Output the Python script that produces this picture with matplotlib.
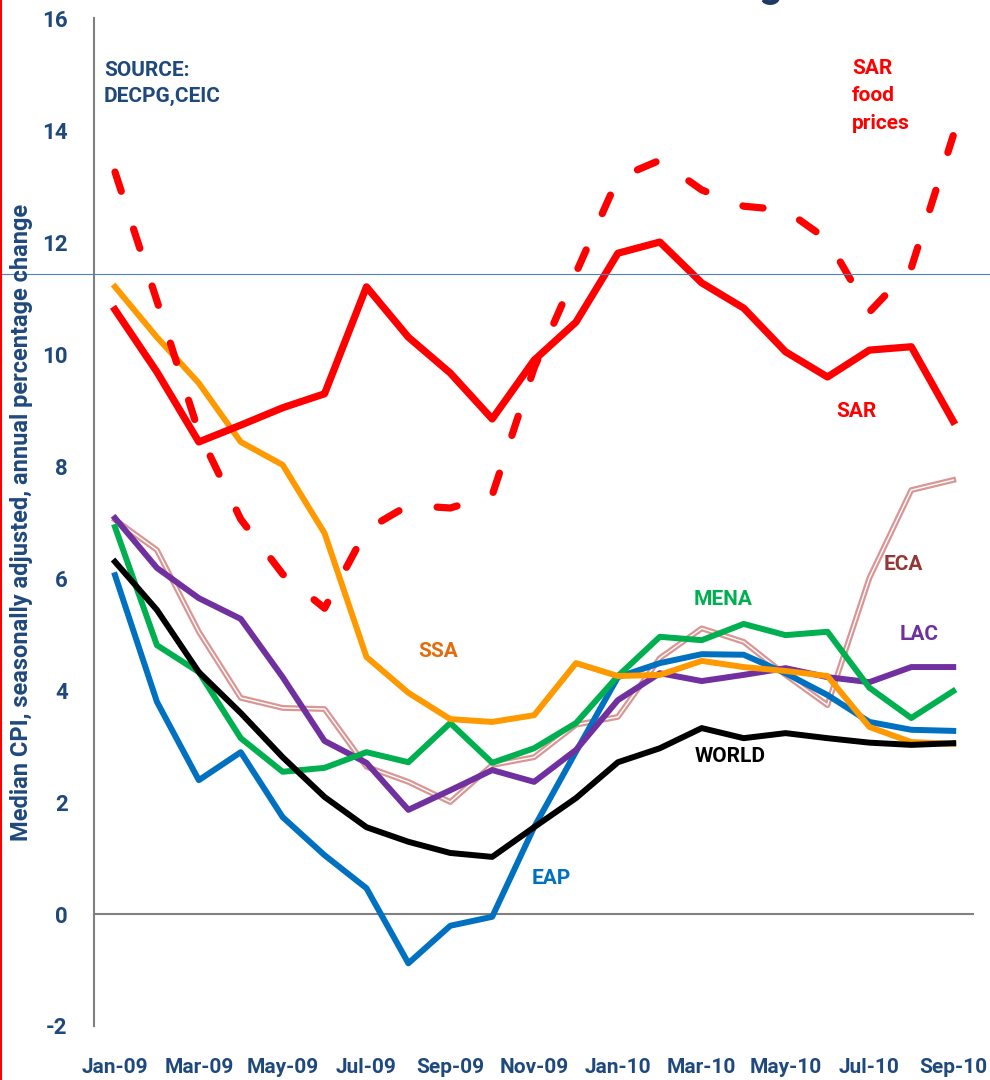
import matplotlib
matplotlib.use("Agg")
import matplotlib.pyplot as plt
from matplotlib.lines import Line2D

plt.rcParams['font.family'] = ['Roboto', 'DejaVu Sans']
plt.rcParams['font.weight'] = 'bold'
plt.rcParams['axes.unicode_minus'] = False

months = ['Jan-09', 'Feb-09', 'Mar-09', 'Apr-09', 'May-09', 'Jun-09', 'Jul-09',
          'Aug-09', 'Sep-09', 'Oct-09', 'Nov-09', 'Dec-09', 'Jan-10', 'Feb-10',
          'Mar-10', 'Apr-10', 'May-10', 'Jun-10', 'Jul-10', 'Aug-10', 'Sep-10']

eap = [6.05, 3.79, 2.39, 2.89, 1.73, 1.05, 0.46, -0.88, -0.21, -0.05, 1.55,
       2.9, 4.23, 4.48, 4.64, 4.63, 4.3, 3.91, 3.43, 3.29, 3.27]
eca = [7.04, 6.5, 5.04, 3.86, 3.68, 3.66, 2.63, 2.36, 2.0, 2.66, 2.8,
       3.38, 3.52, 4.57, 5.1, 4.86, 4.27, 3.73, 6.0, 7.57, 7.75]
lac = [7.07, 6.18, 5.64, 5.27, 4.23, 3.09, 2.7, 1.86, 2.21, 2.57, 2.36,
       2.93, 3.82, 4.3, 4.16, 4.27, 4.39, 4.23, 4.14, 4.41, 4.41]
mena = [6.91, 4.8, 4.32, 3.14, 2.54, 2.61, 2.89, 2.71, 3.41, 2.7, 2.96,
        3.41, 4.25, 4.95, 4.89, 5.18, 4.98, 5.04, 4.04, 3.5, 3.98]
sar = [10.79, 9.68, 8.43, 8.73, 9.04, 9.29, 11.2, 10.3, 9.66, 8.84, 9.89,
       10.57, 11.8, 12.0, 11.27, 10.82, 10.04, 9.59, 10.07, 10.13, 8.8]
ssa = [11.2, 10.3, 9.48, 8.43, 8.02, 6.8, 4.59, 3.95, 3.48, 3.43, 3.55,
       4.48, 4.25, 4.27, 4.52, 4.41, 4.34, 4.25, 3.34, 3.07, 3.04]
world = [6.29, 5.43, 4.32, 3.59, 2.8, 2.09, 1.55, 1.29, 1.09, 1.02, 1.55,
         2.07, 2.71, 2.96, 3.32, 3.14, 3.23, 3.14, 3.06, 3.02, 3.05]
sar_food = [13.25, 10.95, 8.6, 7.05, 6.07, 5.46, 6.86, 7.3, 7.25, 7.48, 9.75,
            11.45, 13.14, 13.46, 12.93, 12.64, 12.57, 12.04, 10.75, 11.54, 13.9]

navy = '#1F497D'
x = list(range(len(months)))

fig = plt.figure(figsize=(9.9, 10.8), dpi=100)
ax = fig.add_axes([0.095, 0.05, 0.889, 0.9333])

# ECA drawn as a double line (pink with white core)
ax.plot(x, eca, color='#D99694', lw=4.2, zorder=2)
ax.plot(x, eca, color='white', lw=1.0, zorder=2.1)
ax.plot(x, eap, color='#0070C0', lw=4.3, zorder=3)
ax.plot(x, lac, color='#7030A0', lw=4.3, zorder=3.2)
ax.plot(x, mena, color='#00B050', lw=4.3, zorder=3.3)
ax.plot(x, ssa, color='#FF9900', lw=4.3, zorder=3.4)
ax.plot(x, world, color='black', lw=4.3, zorder=3.5)
ax.plot(x, sar, color='#FF0000', lw=5.2, zorder=3.6)
ax.plot(x, sar_food, color='#FF0000', lw=5.2, dashes=(2.8, 5.5),
        dash_capstyle='round', zorder=3.7)

ax.set_xlim(-0.5, 20.5)
ax.set_ylim(-2, 16)
ax.axhline(0, color='#808080', lw=1.5, zorder=1)

for s in ['top', 'right', 'bottom']:
    ax.spines[s].set_visible(False)
ax.spines['left'].set_color('#808080')
ax.spines['left'].set_linewidth(1.5)

ax.set_xticks(x[::2])
ax.set_xticklabels(months[::2])
ax.set_yticks(range(-2, 17, 2))
ax.tick_params(axis='x', length=0, pad=23, labelsize=15, labelcolor=navy)
ax.tick_params(axis='y', length=0, pad=19, labelsize=16, labelcolor=navy)

fig.text(0.022, 0.516, 'Median CPI, seasonally adjusted, annual percentage change',
         rotation=90, ha='center', va='center', fontsize=17, color=navy)

ax.text(-0.26, 14.83, 'SOURCE:\nDECPG,CEIC', ha='left', va='center',
        fontsize=15, color=navy, linespacing=1.5)
ax.text(17.59, 14.61, 'SAR\nfood\nprices', ha='left', va='center',
        fontsize=15, color='#FF0000', linespacing=1.55)
ax.text(17.68, 8.98, 'SAR', ha='center', va='center', fontsize=15, color='#FF0000')
ax.text(18.81, 6.25, 'ECA', ha='center', va='center', fontsize=15, color='#953735')
ax.text(14.51, 5.61, 'MENA', ha='center', va='center', fontsize=15, color='#00B050')
ax.text(19.19, 5.0, 'LAC', ha='center', va='center', fontsize=15, color='#7030A0')
ax.text(14.68, 2.82, 'WORLD', ha='center', va='center', fontsize=15, color='black')
ax.text(7.71, 4.68, 'SSA', ha='center', va='center', fontsize=15, color='#E46C0A')
ax.text(10.41, 0.64, 'EAP', ha='center', va='center', fontsize=15, color='#0070C0')

# slide artefacts: thin guide line, red left border, clipped title fragment
fig.add_artist(Line2D([0, 1], [1 - 274 / 1080] * 2, color='#4F81BD', lw=0.8))
fig.add_artist(Line2D([0.001, 0.001], [0, 1], color='#FF0000', lw=1.5))
fig.text(0.778, 1 + 4 / 1080, 'g', ha='center', va='baseline', fontsize=30,
         color='#1F3864')

fig.savefig('out.png', dpi=100)
